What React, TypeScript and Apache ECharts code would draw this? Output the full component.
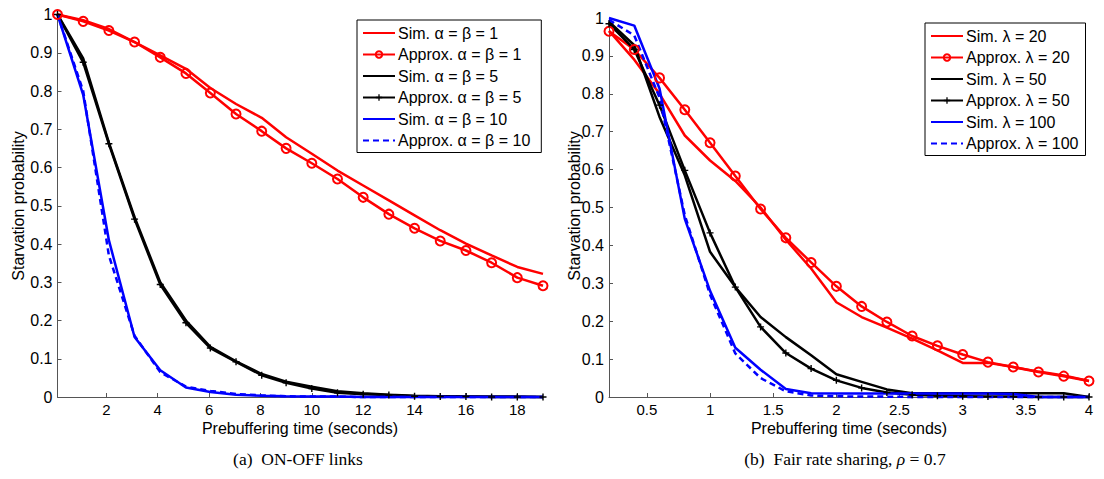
import React, { useEffect, useRef } from "react";
import * as echarts from "echarts";

// ---------- Data ----------
// (a) ON-OFF links
const xLeft = [0.1, 1.1, 2.1, 3.1, 4.1, 5.1, 6.05, 7.05, 8.05, 9, 10, 11, 12, 13, 14, 15, 16, 17, 18, 19];
const simA1 = [1.0, 0.985, 0.962, 0.928, 0.893, 0.858, 0.808, 0.766, 0.73, 0.679, 0.636, 0.592, 0.553, 0.514, 0.475, 0.436, 0.401, 0.37, 0.34, 0.322];
const apxA1 = [1.0, 0.982, 0.958, 0.928, 0.888, 0.846, 0.795, 0.74, 0.695, 0.65, 0.611, 0.57, 0.522, 0.478, 0.441, 0.408, 0.383, 0.351, 0.312, 0.291];
const simA5 = [1.0, 0.885, 0.665, 0.47, 0.3, 0.2, 0.131, 0.093, 0.06, 0.04, 0.027, 0.015, 0.01, 0.006, 0.003, 0.002, 0.001, 0.001, 0.001, 0.0];
const apxA5 = [1.0, 0.875, 0.662, 0.465, 0.294, 0.194, 0.128, 0.092, 0.057, 0.037, 0.022, 0.011, 0.007, 0.005, 0.002, 0.001, 0.001, 0.0, 0.0, 0.0];
const simA10 = [1.0, 0.79, 0.41, 0.157, 0.07, 0.025, 0.013, 0.006, 0.003, 0.002, 0.001, 0.001, 0.0, 0.0, 0.0, 0.0, 0.0, 0.0, 0.0, 0.0];
const apxA10 = [1.0, 0.8, 0.37, 0.16, 0.065, 0.027, 0.016, 0.008, 0.004, 0.002, 0.001, 0.001, 0.0, 0.0, 0.0, 0.0, 0.0, 0.0, 0.0, 0.0];
const xTicksLeft = [2, 4, 6, 8, 10, 12, 14, 16, 18];

// (b) Fair rate sharing
const xRight = [0.2, 0.4, 0.6, 0.8, 1.0, 1.2, 1.4, 1.6, 1.8, 2.0, 2.2, 2.4, 2.6, 2.8, 3.0, 3.2, 3.4, 3.6, 3.8, 4.0];
const simL20 = [0.966, 0.89, 0.8, 0.69, 0.624, 0.57, 0.5, 0.415, 0.339, 0.25, 0.211, 0.183, 0.154, 0.123, 0.09, 0.09, 0.079, 0.067, 0.057, 0.042];
const apxL20 = [0.965, 0.917, 0.842, 0.758, 0.671, 0.583, 0.496, 0.42, 0.355, 0.292, 0.239, 0.198, 0.161, 0.135, 0.112, 0.092, 0.079, 0.066, 0.055, 0.042];
const simL50 = [0.99, 0.928, 0.739, 0.585, 0.383, 0.29, 0.211, 0.158, 0.11, 0.06, 0.04, 0.02, 0.01, 0.01, 0.01, 0.01, 0.01, 0.01, 0.01, 0.0];
const apxL50 = [0.985, 0.917, 0.77, 0.598, 0.433, 0.29, 0.185, 0.116, 0.075, 0.044, 0.024, 0.012, 0.006, 0.003, 0.002, 0.001, 0.001, 0.0, 0.0, 0.0];
const simL100 = [1.0, 0.98, 0.814, 0.47, 0.28, 0.13, 0.072, 0.021, 0.01, 0.009, 0.009, 0.009, 0.009, 0.009, 0.009, 0.009, 0.008, 0.0, 0.0, 0.0];
const apxL100 = [0.995, 0.954, 0.79, 0.48, 0.27, 0.115, 0.05, 0.015, 0.004, 0.002, 0.001, 0.001, 0.0, 0.0, 0.0, 0.0, 0.0, 0.0, 0.0, 0.0];
const xTicksRight = [0.5, 1, 1.5, 2, 2.5, 3, 3.5, 4];

const namesLeft = [
  "Sim. α = β = 1",
  "Approx. α = β = 1",
  "Sim. α = β = 5",
  "Approx. α = β = 5",
  "Sim. α = β = 10",
  "Approx. α = β = 10",
];
const namesRight = [
  "Sim. λ = 20",
  "Approx. λ = 20",
  "Sim. λ = 50",
  "Approx. λ = 50",
  "Sim. λ = 100",
  "Approx. λ = 100",
];
// which legend entries carry a marker
const kinds: Kind[] = ["sim", "circle", "sim", "plus", "sim", "dash"];

const RED = "#ff0000";
const BLACK = "#000000";
const BLUE = "#0000ff";
const FONT = "'Liberation Sans', Arial, Helvetica, sans-serif";
const SERIF = "'Liberation Serif', 'Times New Roman', serif";
const PLUS = "path://M4,0H6V4H10V6H6V10H4V6H0V4H4Z";

type Kind = "sim" | "circle" | "plus" | "dash";

function makeSeries(name: string, xs: number[], ys: number[], color: string, kind: Kind, idx: number) {
  const s: any = {
    type: "line",
    name,
    xAxisIndex: idx,
    yAxisIndex: idx,
    data: xs.map((x, i) => [x, ys[i]]),
    clip: false,
    lineStyle: { color, width: 2.5, type: kind === "dash" ? [6, 4] : "solid" },
    itemStyle: { color },
    symbol: "none",
    emphasis: { disabled: true },
  };
  if (kind === "circle") {
    s.symbol = "circle";
    s.symbolSize = 9;
    s.itemStyle = { color: "rgba(255,255,255,0)", borderColor: color, borderWidth: 2 };
  } else if (kind === "plus") {
    s.symbol = PLUS;
    s.symbolSize = 7;
    s.itemStyle = { color };
  }
  return s;
}

function xAxisCfg(idx: number, min: number, max: number, ticks: number[]) {
  return {
    type: "value",
    gridIndex: idx,
    min,
    max,
    axisLine: { show: true, lineStyle: { color: "#555", width: 1 } },
    axisTick: { show: true, inside: true, length: 4, customValues: ticks, lineStyle: { color: "#555" } },
    axisLabel: {
      customValues: ticks,
      color: "#000",
      fontSize: 15,
      fontFamily: FONT,
      margin: 5,
      formatter: (v: number) => String(Math.round(v * 10) / 10),
    },
    splitLine: { show: false },
  };
}

function yAxisCfg(idx: number) {
  return {
    type: "value",
    gridIndex: idx,
    min: 0,
    max: 1,
    interval: 0.1,
    axisLine: { show: true, lineStyle: { color: "#555", width: 1 } },
    axisTick: { show: true, inside: true, length: 4, lineStyle: { color: "#555" } },
    axisLabel: {
      color: "#000",
      fontSize: 16,
      fontFamily: FONT,
      margin: 5,
      formatter: (v: number) => String(Math.round(v * 10) / 10),
    },
    splitLine: { show: false },
  };
}

function legendCfg(left: number, top: number, names: string[], padRight: number) {
  return {
    left,
    top,
    orient: "vertical",
    data: names.map((name, i) =>
      kinds[i] === "sim" || kinds[i] === "dash"
        ? { name, itemStyle: { opacity: 0, color: "rgba(0,0,0,0)", borderWidth: 0 } }
        : { name }
    ),
    itemWidth: 32,
    itemHeight: 8,
    itemGap: 5.5,
    padding: [5, padRight, 4, 5],
    borderColor: "#000",
    borderWidth: 1,
    backgroundColor: "#fff",
    selectedMode: false,
    textStyle: { fontSize: 16, color: "#000", fontFamily: FONT, padding: [0, 0, 0, -2] },
  };
}

export default function App() {
  const ref = useRef<HTMLDivElement>(null);

  useEffect(() => {
    document.body.style.margin = "0";
    if (!ref.current) return;
    const chart = echarts.init(ref.current, undefined, { renderer: "svg" });

    const series = [
      makeSeries(namesLeft[0], xLeft, simA1, RED, kinds[0], 0),
      makeSeries(namesLeft[1], xLeft, apxA1, RED, kinds[1], 0),
      makeSeries(namesLeft[2], xLeft, simA5, BLACK, kinds[2], 0),
      makeSeries(namesLeft[3], xLeft, apxA5, BLACK, kinds[3], 0),
      makeSeries(namesLeft[4], xLeft, simA10, BLUE, kinds[4], 0),
      makeSeries(namesLeft[5], xLeft, apxA10, BLUE, kinds[5], 0),
      makeSeries(namesRight[0], xRight, simL20, RED, kinds[0], 1),
      makeSeries(namesRight[1], xRight, apxL20, RED, kinds[1], 1),
      makeSeries(namesRight[2], xRight, simL50, BLACK, kinds[2], 1),
      makeSeries(namesRight[3], xRight, apxL50, BLACK, kinds[3], 1),
      makeSeries(namesRight[4], xRight, simL100, BLUE, kinds[4], 1),
      makeSeries(namesRight[5], xRight, apxL100, BLUE, kinds[5], 1),
    ];

    const option: any = {
      animation: false,
      backgroundColor: "#fff",
      grid: [
        { left: 57.5, top: 14.5, width: 485.5, height: 382.5 },
        { left: 609, top: 18, width: 480, height: 379 },
      ],
      xAxis: [xAxisCfg(0, 0.1, 19, xTicksLeft), xAxisCfg(1, 0.2, 4, xTicksRight)],
      yAxis: [yAxisCfg(0), yAxisCfg(1)],
      legend: [legendCfg(357, 20, namesLeft, 11), legendCfg(925, 23, namesRight, 7)],
      series,
      graphic: [
        {
          type: "text",
          x: 18,
          y: 206,
          rotation: Math.PI / 2,
          style: { text: "Starvation probability", font: `16px ${FONT}`, fill: "#000", align: "center", verticalAlign: "middle" },
        },
        {
          type: "text",
          x: 574,
          y: 206,
          rotation: Math.PI / 2,
          style: { text: "Starvation probability", font: `16px ${FONT}`, fill: "#000", align: "center", verticalAlign: "middle" },
        },
        {
          type: "text",
          x: 300,
          y: 428,
          style: { text: "Prebuffering time (seconds)", font: `16px ${FONT}`, fill: "#000", align: "center", verticalAlign: "middle" },
        },
        {
          type: "text",
          x: 849,
          y: 428,
          style: { text: "Prebuffering time (seconds)", font: `16px ${FONT}`, fill: "#000", align: "center", verticalAlign: "middle" },
        },
        {
          type: "text",
          x: 298,
          y: 459,
          style: { text: "(a)  ON-OFF links", font: `17.5px ${SERIF}`, fill: "#000", align: "center", verticalAlign: "middle" },
        },
        {
          type: "text",
          x: 845,
          y: 459,
          style: {
            text: "(b)  Fair rate sharing, {i|ρ} = 0.7",
            font: `17.5px ${SERIF}`,
            fill: "#000",
            align: "center",
            verticalAlign: "middle",
            rich: { i: { fontStyle: "italic", fontSize: 17.5, fontFamily: SERIF } },
          },
        },
      ],
    };

    chart.setOption(option);
    return () => chart.dispose();
  }, []);

  return <div ref={ref} style={{ width: 1104, height: 479 }} />;
}
